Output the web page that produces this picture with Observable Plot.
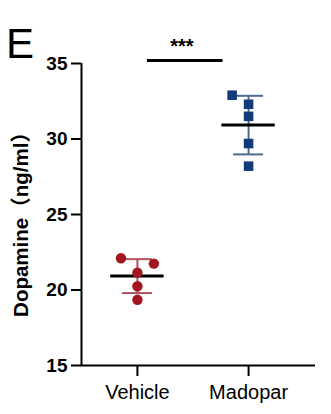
<!DOCTYPE html>
<html>
<head>
<meta charset="utf-8">
<script src="https://cdn.jsdelivr.net/npm/d3@7"></script>
<script src="https://cdn.jsdelivr.net/npm/@observablehq/plot@0.6"></script>
<style>
  html, body { margin: 0; padding: 0; background: #fff; }
  #chart svg { display: block; font-family: "Liberation Sans", Arial, "Noto Sans CJK SC", sans-serif; }
</style>
</head>
<body>
<div id="chart"></div>
<script>
// ---- data ----
const groups = ["Vehicle", "Madopar"];
const vehicleValues = [22.1, 21.75, 21.15, 20.25, 19.35];
const madoparValues = [32.9, 32.3, 31.5, 29.7, 28.2];
const yTicks = [15, 20, 25, 30, 35];
const yLabel = "Dopamine（ng/ml）";
const panelLetter = "E";
const sigLabel = "***";

// ---- styles / layout ----
const pointColors = ["#a3151f", "#123b7c"];
const errColors = ["#b0525c", "#4f6a8f"];
const xDomain = [-0.503, 1.602];
const yDomain = [15, 35];
const spread = 0.148;     // horizontal spread step (x units)
const gap = 0.7;          // values closer than this are spread apart
const meanHalf = 0.24, capHalf = 0.135;

// build table + column-scatter layout computed from the values
const series = [vehicleValues, madoparValues];
const points = [];
const stats = [];
series.forEach((vals, i) => {
  const sorted = vals.slice().sort((a, b) => b - a);
  const clusters = [];
  sorted.forEach((v, k) => {
    if (k > 0 && sorted[k - 1] - v < gap) clusters[clusters.length - 1].push(v);
    else clusters.push([v]);
  });
  clusters.forEach(c => {
    c.forEach((v, k) => {
      let off = 0;
      if (k < c.length - 1) {
        const step = Math.floor(k / 2) + 1;
        off = (k % 2 === 0 ? -1 : 1) * step;
      }
      points.push({group: groups[i], i, value: v, x: i + off * spread});
    });
  });
  const m = d3.mean(vals), s = d3.deviation(vals);
  stats.push({group: groups[i], i, mean: m, lo: m - s, hi: m + s});
});

const chart = Plot.plot({
  width: 331,
  height: 414,
  marginLeft: 81,
  marginRight: 16,
  marginTop: 63,
  marginBottom: 49,
  style: {background: "#fff", color: "#000"},
  x: {type: "linear", domain: xDomain},
  y: {domain: yDomain},
  marks: [
    Plot.axisY({ticks: yTicks, tickSize: 10, tickPadding: 4, fontSize: 19, fontWeight: "bold", strokeWidth: 2, label: null}),
    Plot.axisX({ticks: [0, 1], tickFormat: d => groups[d], tickSize: 11, tickPadding: 8, fontSize: 20, strokeWidth: 2, label: null}),
    Plot.ruleX([xDomain[0]], {y1: yDomain[0], y2: yDomain[1], strokeWidth: 2, stroke: "#000"}),
    Plot.ruleY([yDomain[0]], {x1: xDomain[0] - 0.004, x2: xDomain[1], strokeWidth: 2, stroke: "#000"}),
    Plot.text([yLabel], {x: xDomain[0], y: (yDomain[0] + yDomain[1]) / 2, dx: -60, dy: 5, rotate: -90, fontSize: 20.5, fontWeight: "bold", fill: "#000"}),
    // error bars (SD)
    Plot.ruleX(stats, {x: "i", y1: "lo", y2: "hi", stroke: d => errColors[d.i], strokeWidth: 2}),
    Plot.ruleY(stats, {y: "hi", x1: d => d.i - capHalf, x2: d => d.i + capHalf, stroke: d => errColors[d.i], strokeWidth: 2}),
    Plot.ruleY(stats, {y: "lo", x1: d => d.i - capHalf, x2: d => d.i + capHalf, stroke: d => errColors[d.i], strokeWidth: 2}),
    // mean
    Plot.ruleY(stats, {y: "mean", x1: d => d.i - meanHalf, x2: d => d.i + meanHalf, stroke: "#000", strokeWidth: 3}),
    // points
    Plot.dot(points.filter(d => d.i === 0), {x: "x", y: "value", r: 5.2, symbol: "circle", fill: pointColors[0], stroke: "none"}),
    Plot.dot(points.filter(d => d.i === 1), {x: "x", y: "value", r: 5.4, symbol: "square", fill: pointColors[1], stroke: "none"}),
    // significance
    Plot.ruleY([yDomain[1]], {x1: 0.09, x2: 0.77, dy: -3, strokeWidth: 3, stroke: "#000"}),
    Plot.text([sigLabel], {x: 0.40, y: yDomain[1], dy: -17, fontSize: 20, fontWeight: "bold", fill: "#000"})
  ]
});

d3.select(chart).append("text")
  .attr("x", 6).attr("y", 58)
  .attr("text-anchor", "start")
  .attr("font-size", 42)
  .attr("font-family", "Liberation Sans, Arial, sans-serif")
  .attr("fill", "#000")
  .text(panelLetter);

document.getElementById("chart").appendChild(chart);
</script>
</body>
</html>
